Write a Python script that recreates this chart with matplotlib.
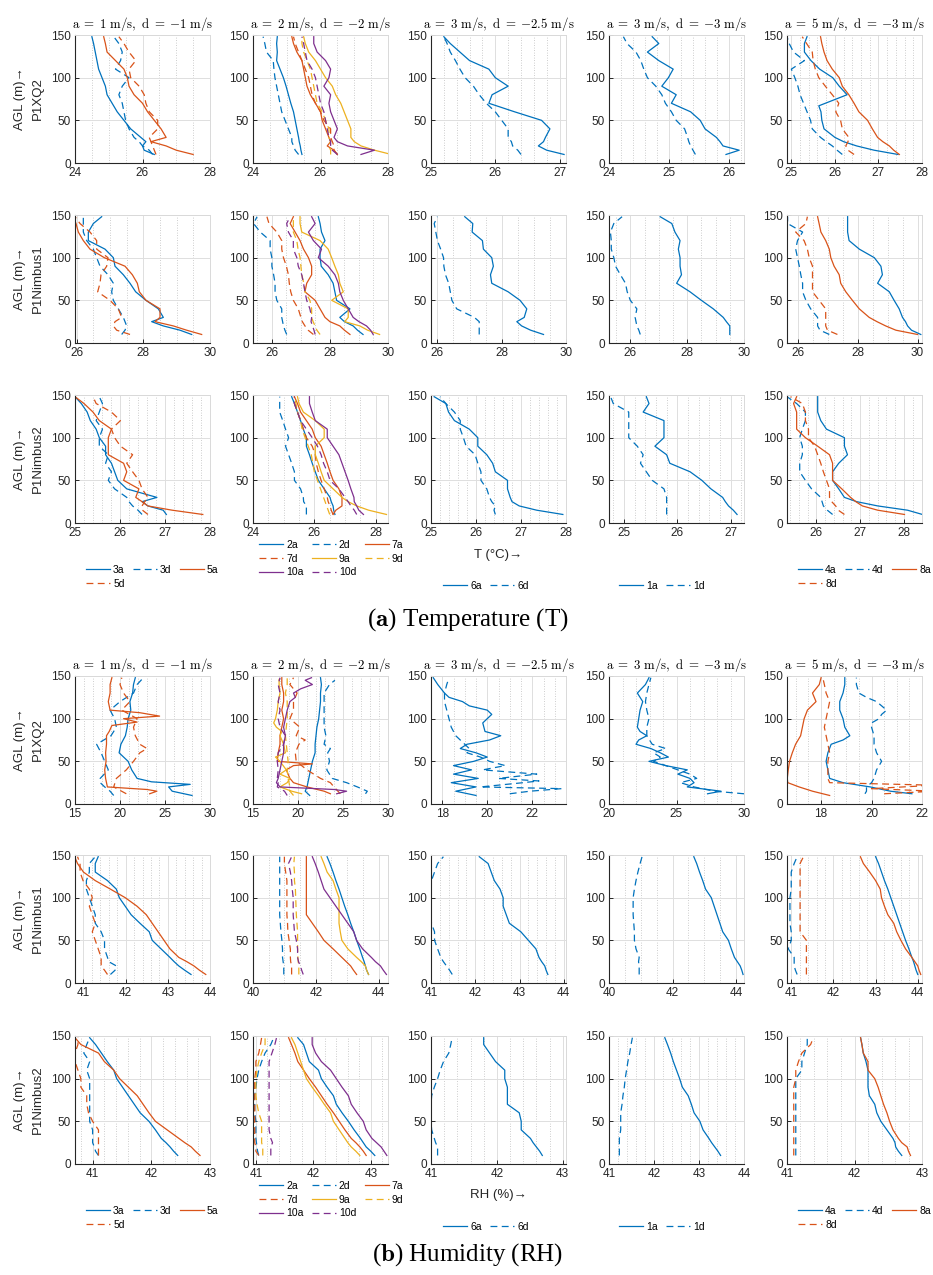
import matplotlib
matplotlib.use('Agg')
import matplotlib.pyplot as plt
from matplotlib.ticker import MultipleLocator, FixedLocator
from matplotlib.lines import Line2D

plt.rcParams['mathtext.fontset'] = 'cm'
plt.rcParams['font.family'] = ['Liberation Sans', 'DejaVu Sans']

# ---------------- data ----------------
H = [10, 15, 20, 25, 30, 40, 50, 60, 70, 80, 90, 100, 110, 120, 130, 140, 148]

# Temperature, P1XQ2
T_XQ2_c1 = {
    '3a': [26.35, 26.05, 26.0, 26.1, 25.95, 25.65, 25.45, 25.25, 25.1, 24.95, 24.9, 24.8, 24.7, 24.65, 24.6, 24.55, 24.5],
    '3d': [26.3, 26.2, 26.0, 25.9, 25.75, 25.6, 25.5, 25.45, 25.4, 25.3, 25.4, 25.6, 25.2, 25.35, 25.4, 25.3, 25.15],
    '5a': [27.5, 27.0, 26.7, 26.25, 26.7, 26.55, 26.35, 26.15, 26.0, 25.75, 25.6, 25.55, 25.45, 25.2, 24.95, 24.9, 24.85],
    '5d': [26.4, 26.35, 26.3, 26.25, 26.2, 26.45, 26.45, 26.2, 26.1, 26.05, 25.9, 25.65, 25.6, 25.8, 25.6, 25.45, 25.3],
}
T_XQ2_c2 = {
    '2a': [25.45, 25.42, 25.4, 25.37, 25.35, 25.3, 25.25, 25.2, 25.12, 25.05, 24.98, 24.9, 24.8, 24.7, 24.72, 24.7, 24.72],
    '2d': [25.35, 25.25, 25.2, 25.15, 25.15, 25.05, 24.95, 24.85, 24.8, 24.75, 24.7, 24.65, 24.62, 24.6, 24.4, 24.35, 24.3],
    '7a': [26.5, 26.4, 26.2, 26.3, 26.25, 26.15, 26.05, 26.0, 25.85, 25.7, 25.6, 25.55, 25.5, 25.45, 25.3, 25.2, 25.15],
    '7d': [26.5, 26.4, 26.4, 26.35, 26.3, 26.3, 26.1, 26.0, 25.85, 25.75, 25.7, 25.65, 25.55, 25.45, 25.35, 25.25, 25.2],
    '9a': [28.1, 27.6, 27.2, 27.0, 26.9, 26.9, 26.8, 26.7, 26.6, 26.45, 26.35, 26.15, 26.0, 25.85, 25.65, 25.55, 25.5],
    '9d': [26.3, 26.3, 26.25, 26.3, 26.25, 26.25, 26.15, 26.05, 25.9, 25.85, 25.8, 25.75, 25.7, 25.6, 25.5, 25.45, 25.45],
    '10a': [27.2, 27.6, 26.8, 26.5, 26.4, 26.5, 26.4, 26.3, 26.25, 26.3, 26.1, 26.25, 26.3, 26.15, 25.9, 25.8, 25.8],
    '10d': [26.5, 26.35, 26.3, 26.3, 26.25, 26.2, 26.15, 26.1, 26.0, 25.95, 25.9, 25.85, 25.75, 25.6, 25.55, 25.5, 25.45],
}
T_XQ2_c3 = {
    '6a': [27.07, 26.8, 26.67, 26.75, 26.78, 26.85, 26.72, 26.3, 25.9, 25.95, 26.2, 26.0, 25.9, 25.6, 25.45, 25.3, 25.2],
    '6d': [26.4, 26.35, 26.27, 26.25, 26.2, 26.2, 26.1, 26.0, 25.86, 25.75, 25.66, 25.53, 25.45, 25.38, 25.3, 25.25, 25.2],
}
T_XQ2_c4 = {
    '1a': [25.95, 26.17, 25.9, 25.85, 25.79, 25.6, 25.52, 25.36, 25.04, 25.12, 24.88, 24.99, 25.07, 24.83, 24.64, 24.83, 24.72],
    '1d': [25.44, 25.4, 25.36, 25.33, 25.31, 25.26, 25.12, 25.04, 24.94, 24.88, 24.78, 24.64, 24.58, 24.53, 24.45, 24.3, 24.24],
}
T_XQ2_c5 = {
    '4a': ([10, 15, 20, 25, 30, 40, 50, 60, 67, 80, 90, 100, 110, 120, 130, 140, 148],
           [27.45, 26.9, 26.5, 26.2, 26.0, 25.75, 25.7, 25.68, 25.63, 26.28, 26.1, 25.95, 25.65, 25.45, 25.3, 25.3, 25.36]),
    '4d': [26.17, 26.05, 25.94, 25.8, 25.67, 25.48, 25.44, 25.36, 25.28, 25.2, 25.15, 25.08, 25.0, 25.3, 25.05, 24.95, 24.9],
    '8a': [27.48, 27.35, 27.25, 27.1, 26.98, 26.86, 26.75, 26.55, 26.44, 26.32, 26.17, 26.1, 25.94, 25.82, 25.75, 25.7, 25.67],
    '8d': [26.44, 26.3, 26.25, 26.3, 26.32, 26.17, 26.13, 26.02, 26.09, 25.94, 25.78, 25.63, 25.55, 25.5, 25.48, 25.35, 25.25],
}

# Temperature, P1Nimbus1
T_N1_c1 = {
    '3a': [29.45, 29.1, 28.6, 28.25, 28.6, 28.45, 28.08, 27.77, 27.6, 27.4, 27.15, 27.1, 26.85, 26.35, 26.35, 26.5, 26.75],
    '3d': [27.35, 27.45, 27.5, 27.45, 27.4, 27.25, 27.1, 27.05, 27.1, 26.94, 26.7, 26.6, 26.5, 26.3, 26.2, 26.2, 26.2],
    '5a': [29.75, 29.3, 28.9, 28.35, 28.5, 28.5, 28.08, 27.88, 27.82, 27.67, 27.45, 26.83, 26.4, 26.2, 26.05, 25.98, 25.9],
    '5d': [27.6, 27.2, 27.1, 27.15, 27.35, 27.25, 27.0, 26.63, 26.7, 26.73, 26.9, 26.94, 26.6, 26.6, 26.4, 26.1, 25.95],
}
T_N1_c2 = {
    '2a': [29.14, 28.95, 28.8, 28.5, 28.34, 28.69, 28.23, 28.17, 28.11, 27.94, 27.7, 27.66, 27.66, 27.83, 27.71, 27.66, 27.6],
    '2d': [26.51, 26.45, 26.4, 26.37, 26.34, 26.34, 26.17, 26.11, 26.11, 26.06, 26.0, 26.0, 25.94, 25.94, 25.6, 25.37, 25.49],
    '7a': [28.69, 28.5, 28.34, 28.0, 27.83, 27.66, 27.49, 27.14, 27.2, 27.37, 27.37, 27.26, 27.09, 26.97, 26.8, 26.63, 26.74],
    '7d': [27.43, 27.25, 27.14, 27.05, 27.0, 26.91, 26.74, 26.65, 26.6, 26.57, 26.5, 26.4, 26.34, 26.34, 26.17, 25.9, 25.83],
    '9a': [29.71, 29.3, 29.03, 28.51, 28.63, 28.63, 28.06, 28.46, 28.34, 28.29, 28.17, 28.06, 27.94, 27.66, 27.03, 26.97, 26.97],
    '9d': [27.66, 27.55, 27.49, 27.42, 27.37, 27.37, 27.31, 27.14, 27.1, 27.03, 27.0, 26.97, 26.9, 26.86, 26.74, 26.74, 26.74],
    '10a': [29.49, 29.4, 29.26, 29.0, 28.8, 28.63, 28.46, 28.34, 28.29, 28.17, 27.94, 27.6, 27.71, 27.43, 27.26, 27.49, 27.37],
    '10d': [27.49, 27.45, 27.4, 27.35, 27.37, 27.31, 27.2, 27.14, 27.09, 27.03, 26.91, 26.86, 26.74, 26.74, 26.57, 26.51, 26.63],
}
T_N1_c3 = {
    '6a': [29.3, 28.9, 28.62, 28.47, 28.7, 28.78, 28.57, 28.2, 27.69, 27.65, 27.74, 27.69, 27.43, 27.4, 27.08, 27.1, 26.85],
    '6d': [27.3, 27.3, 27.3, 27.3, 27.15, 26.6, 26.45, 26.4, 26.35, 26.25, 26.2, 26.19, 26.1, 26.0, 25.95, 25.9, 26.0],
}
T_N1_c4 = {
    '1a': [29.5, 29.5, 29.5, 29.38, 29.27, 28.92, 28.5, 28.1, 27.63, 27.8, 27.75, 27.75, 27.69, 27.75, 27.57, 27.46, 27.05],
    '1d': [26.35, 26.3, 26.23, 26.2, 26.17, 26.23, 26.0, 25.89, 25.83, 25.65, 25.48, 25.42, 25.33, 25.33, 25.3, 25.42, 25.71],
}
T_N1_c5 = {
    '4a': [30.11, 29.8, 29.67, 29.6, 29.5, 29.39, 29.22, 29.06, 28.67, 28.83, 28.78, 28.56, 28.06, 27.72, 27.67, 27.67, 27.67],
    '4d': [27.06, 26.75, 26.67, 26.67, 26.67, 26.44, 26.28, 26.17, 26.17, 26.11, 26.06, 26.0, 25.94, 26.0, 26.17, 25.67, 25.67],
    '8a': [30.0, 29.28, 28.94, 28.65, 28.39, 28.06, 27.83, 27.61, 27.44, 27.39, 27.22, 27.11, 27.06, 26.94, 26.78, 26.72, 26.67],
    '8d': [27.33, 27.0, 26.94, 26.94, 26.94, 26.94, 26.72, 26.5, 26.5, 26.5, 26.5, 26.39, 26.33, 26.22, 25.94, 26.28, 26.33],
}

# Temperature, P1Nimbus2
T_N2_c1 = {
    '3a': [27.03, 26.96, 26.62, 26.49, 26.82, 26.15, 25.95, 25.88, 25.81, 25.68, 25.68, 25.54, 25.47, 25.34, 25.27, 25.14, 25.0],
    '3d': [26.49, 26.4, 26.28, 26.2, 26.15, 25.88, 25.74, 25.81, 25.68, 25.74, 25.54, 25.54, 25.61, 25.47, 25.54, 25.61, 25.54],
    '5a': [27.84, 27.16, 26.62, 26.49, 26.35, 26.42, 26.08, 26.15, 26.08, 25.74, 25.74, 25.74, 25.81, 25.54, 25.4, 25.2, 25.0],
    '5d': [26.62, 26.5, 26.49, 26.55, 26.62, 26.49, 26.42, 26.28, 26.15, 26.28, 26.01, 25.88, 25.81, 26.01, 25.81, 25.47, 25.4],
}
T_N2_c2 = {
    '2a': [26.67, 26.63, 26.61, 26.55, 26.51, 26.32, 26.13, 26.03, 25.93, 25.84, 25.74, 25.74, 25.64, 25.55, 25.45, 25.35, 25.26],
    '2d': [25.74, 25.74, 25.74, 25.65, 25.64, 25.55, 25.35, 25.35, 25.26, 25.16, 25.06, 25.16, 25.06, 24.97, 24.87, 24.87, 24.87],
    '7a': [26.61, 26.7, 26.9, 26.9, 26.9, 26.8, 26.61, 26.51, 26.42, 26.32, 26.22, 26.03, 25.93, 25.74, 25.55, 25.45, 25.35],
    '7d': [26.61, 26.55, 26.51, 26.45, 26.42, 26.32, 26.22, 26.13, 26.06, 26.03, 25.93, 25.74, 25.64, 25.55, 25.45, 25.35, 25.35],
    '9a': [28.35, 27.77, 27.38, 27.1, 26.9, 26.61, 26.32, 26.22, 26.13, 26.03, 26.03, 26.32, 26.32, 26.03, 25.64, 25.5, 25.45],
    '9d': [26.5, 26.45, 26.4, 26.35, 26.3, 26.2, 26.1, 26.0, 25.95, 25.9, 25.8, 25.7, 25.6, 25.55, 25.45, 25.4, 25.35],
    '10a': [27.6, 27.45, 27.38, 27.3, 27.29, 27.19, 27.1, 27.0, 26.9, 26.8, 26.61, 26.42, 26.42, 26.03, 25.93, 25.84, 25.84],
    '10d': [27.38, 27.3, 27.19, 27.1, 27.0, 26.8, 26.51, 26.42, 26.3, 26.22, 26.1, 25.93, 25.74, 25.55, 25.45, 25.35, 25.35],
}
T_N2_c3 = {
    '6a': [27.93, 27.35, 26.96, 26.8, 26.76, 26.7, 26.7, 26.43, 26.37, 26.24, 26.04, 26.04, 25.85, 25.52, 25.39, 25.33, 25.07],
    '6d': [26.43, 26.4, 26.43, 26.35, 26.3, 26.24, 26.11, 26.11, 26.04, 25.98, 25.78, 25.72, 25.65, 25.65, 25.52, 25.33, 25.2],
}
T_N2_c4 = {
    '1a': [27.12, 27.05, 26.96, 26.9, 26.85, 26.63, 26.46, 26.24, 25.86, 25.8, 25.58, 25.75, 25.75, 25.75, 25.36, 25.47, 25.42],
    '1d': [25.8, 25.8, 25.8, 25.8, 25.8, 25.75, 25.53, 25.42, 25.31, 25.36, 25.25, 25.09, 25.09, 25.09, 25.09, 24.8, 24.75],
}
T_N2_c5 = {
    '4a': [28.42, 28.08, 27.4, 26.92, 26.64, 26.51, 26.37, 26.37, 26.51, 26.71, 26.64, 26.64, 26.23, 26.1, 26.03, 26.03, 26.03],
    '4d': [26.37, 26.25, 26.16, 26.13, 26.1, 25.89, 25.75, 25.62, 25.62, 25.68, 25.68, 25.62, 25.68, 25.75, 25.75, 25.55, 25.33],
    '8a': [28.01, 27.4, 27.05, 26.9, 26.78, 26.58, 26.37, 26.37, 26.37, 26.3, 26.03, 25.75, 25.55, 25.55, 25.55, 25.48, 25.55],
    '8d': [26.64, 26.5, 26.44, 26.35, 26.3, 26.3, 26.23, 26.16, 26.1, 26.03, 25.96, 25.82, 25.82, 25.75, 25.75, 25.68, 25.41],
}

# Humidity, P1XQ2
RH_XQ2_c1 = {
    '3a': ([10, 15, 20, 23, 26, 30, 40, 50, 55, 60, 70, 80, 90, 100, 110, 120, 130, 140, 148],
           [28.0, 25.8, 25.4, 27.8, 23.5, 21.9, 21.3, 20.9, 20.4, 19.9, 20.1, 20.6, 20.8, 20.9, 21.2, 21.1, 21.4, 21.5, 21.7]),
    '3d': [19.3, 18.9, 18.3, 17.8, 17.8, 18.7, 18.3, 17.9, 17.4, 19.0, 19.6, 19.4, 18.9, 20.0, 21.5, 21.9, 22.6],
    '5a': ([12, 15, 17, 20, 30, 40, 50, 60, 70, 80, 85, 92, 96, 100, 103, 107, 110, 120, 130, 140, 148],
           [23.3, 24.1, 23.0, 18.6, 18.4, 18.3, 18.45, 18.4, 18.5, 18.5, 18.8, 19.1, 21.9, 20.4, 24.4, 22.2, 18.9, 18.7, 18.9, 18.9, 19.1]),
    '5d': ([12, 20, 30, 40, 50, 60, 65, 70, 80, 90, 100, 110, 120, 130, 140, 148],
           [20.7, 19.3, 19.6, 20.7, 21.5, 22.2, 23.0, 22.2, 21.7, 21.5, 21.9, 20.2, 21.1, 20.4, 20.0, 20.2]),
}
RH_XQ2_c2 = {
    '2a': [21.3, 20.8, 21.0, 21.1, 21.2, 21.4, 21.6, 21.9, 21.9, 22.0, 22.1, 22.3, 22.4, 22.5, 22.5, 22.6, 22.5],
    '2d': ([12, 15, 20, 25, 30, 40, 50, 60, 65, 70, 80, 90, 100, 110, 120, 130, 140, 145],
           [27.5, 27.7, 26.6, 25.4, 23.8, 23.2, 23.5, 23.3, 23.6, 22.9, 23.1, 22.9, 22.9, 22.9, 22.9, 22.9, 23.5, 24.1]),
    '7a': ([12, 15, 20, 25, 30, 40, 45, 47, 50, 60, 70, 80, 90, 100, 110, 120, 130, 140, 148],
           [23.6, 22.9, 21.0, 19.5, 19.1, 18.7, 19.5, 21.6, 17.7, 17.8, 18.0, 18.0, 18.2, 18.4, 18.2, 18.4, 18.4, 18.2, 18.2]),
    '7d': ([12, 20, 25, 30, 40, 50, 60, 70, 75, 80, 90, 100, 110, 120, 130, 140, 148],
           [24.7, 24.0, 23.6, 22.5, 21.0, 19.8, 19.7, 20.1, 20.8, 19.8, 20.2, 19.1, 19.5, 19.5, 19.9, 19.1, 19.5]),
    '9a': ([12, 15, 20, 25, 30, 35, 40, 50, 55, 60, 70, 80, 85, 90, 95, 100, 110, 120, 130, 140, 146],
           [20.4, 19.3, 18.0, 18.8, 19.1, 18.0, 18.7, 18.0, 17.5, 18.6, 18.4, 18.0, 18.2, 17.6, 17.3, 17.5, 17.7, 17.8, 18.0, 17.9, 17.9]),
    '9d': [19.5, 19.1, 19.1, 19.0, 18.9, 18.8, 18.9, 18.8, 18.7, 18.6, 18.7, 18.8, 18.8, 18.8, 18.6, 18.8, 18.8],
    '10a': ([12, 15, 17, 20, 25, 30, 40, 50, 60, 70, 80, 90, 100, 110, 120, 125, 130, 135, 140, 145, 148],
            [24.3, 25.4, 24.0, 18.0, 17.6, 17.8, 18.0, 18.2, 18.4, 18.4, 18.6, 18.4, 18.6, 18.8, 19.1, 19.7, 19.5, 20.3, 21.6, 20.8, 21.5]),
    '10d': [18.8, 18.5, 17.7, 17.8, 17.7, 17.8, 17.7, 17.8, 18.4, 18.6, 18.0, 17.8, 18.0, 17.8, 18.0, 17.8, 18.0],
}
RH_XQ2_c3 = {
    '6a': ([10, 15, 20, 25, 30, 35, 40, 45, 50, 55, 60, 65, 70, 75, 80, 85, 95, 100, 105, 110, 115, 120, 125, 130, 140, 148],
           [19.5, 18.6, 19.5, 18.4, 19.6, 18.5, 19.3, 18.5, 19.4, 20.0, 19.5, 18.8, 19.1, 20.1, 20.6, 19.9, 19.8, 20.0, 20.2, 20.0, 19.2, 18.9, 18.3, 18.1, 17.8, 17.6]),
    '6d': ([12, 15, 18, 20, 25, 27, 30, 35, 40, 45, 50, 55, 60, 65, 70, 80, 90, 100, 110, 120, 130, 140, 148],
           [21.0, 21.9, 23.3, 19.7, 21.6, 22.3, 20.5, 22.2, 19.8, 20.8, 20.1, 19.7, 19.1, 19.2, 19.0, 18.6, 18.4, 18.3, 18.2, 18.1, 18.1, 18.2, 18.3]),
}
RH_XQ2_c4 = {
    '1a': ([12, 15, 20, 25, 30, 35, 40, 45, 50, 55, 60, 65, 70, 75, 80, 85, 90, 100, 110, 120, 130, 140, 148],
           [27.3, 28.3, 25.8, 26.3, 26.0, 25.1, 25.8, 24.2, 22.96, 24.4, 23.8, 23.1, 22.0, 22.2, 22.8, 22.3, 22.1, 22.2, 22.3, 22.5, 22.1, 22.7, 22.96]),
    '1d': ([12, 15, 20, 25, 30, 35, 40, 50, 55, 60, 65, 70, 80, 90, 100, 110, 120, 130, 140, 148],
           [30.0, 27.8, 26.3, 25.3, 26.5, 26.0, 25.1, 23.3, 23.8, 23.3, 24.2, 23.2, 22.8, 22.8, 22.96, 22.8, 22.7, 22.8, 22.96, 23.1]),
}
RH_XQ2_c5 = {
    '4a': ([12, 15, 20, 25, 30, 40, 50, 60, 70, 75, 80, 90, 100, 110, 120, 130, 140, 148],
           [21.6, 20.75, 19.95, 18.87, 18.34, 18.27, 18.2, 18.27, 18.4, 18.87, 19.14, 18.94, 18.87, 18.74, 18.74, 18.87, 18.94, 18.94]),
    '4d': ([12, 15, 20, 25, 30, 40, 50, 55, 60, 70, 80, 90, 95, 100, 105, 110, 120, 125, 130, 140, 148],
           [19.74, 19.8, 19.8, 20.0, 20.1, 20.2, 20.4, 20.3, 20.2, 20.1, 20.1, 20.0, 20.0, 20.3, 20.4, 20.6, 20.2, 19.8, 19.5, 19.4, 19.4]),
    '8a': [18.34, 17.66, 17.13, 16.68, 16.66, 16.7, 16.75, 16.86, 16.99, 17.19, 17.26, 17.33, 17.46, 17.8, 17.66, 17.93, 18.0],
    '8d': ([12, 15, 18, 22, 25, 30, 40, 50, 60, 70, 80, 90, 100, 110, 120, 130, 140, 148],
           [20.5, 22.5, 20.0, 22.5, 18.34, 18.27, 18.27, 18.27, 18.34, 18.27, 18.2, 18.13, 18.2, 18.27, 18.34, 18.2, 18.13, 18.07]),
}

# Humidity, P1Nimbus1
RH_N1_c1 = {
    '3a': [43.55, 43.4, 43.26, 43.15, 43.05, 42.84, 42.63, 42.56, 42.34, 42.13, 41.99, 41.85, 41.78, 41.57, 41.28, 41.28, 41.35],
    '3d': [41.64, 41.75, 41.78, 41.6, 41.57, 41.5, 41.5, 41.42, 41.28, 41.28, 41.21, 41.14, 41.07, 41.07, 41.14, 41.14, 41.28],
    '5a': [43.9, 43.75, 43.62, 43.45, 43.26, 43.05, 42.91, 42.77, 42.63, 42.49, 42.27, 41.99, 41.64, 41.28, 41.0, 40.86, 40.79],
    '5d': [41.57, 41.5, 41.42, 41.42, 41.42, 41.35, 41.28, 41.21, 41.28, 41.21, 41.14, 41.21, 41.14, 40.99, 40.92, 40.92, 40.86],
}
RH_N1_c2 = {
    '2a': [43.68, 43.62, 43.58, 43.54, 43.49, 43.4, 43.3, 43.21, 43.11, 43.02, 42.92, 42.83, 42.74, 42.64, 42.55, 42.45, 42.36],
    '2d': [40.98, 40.98, 40.98, 40.96, 40.94, 40.94, 40.92, 40.89, 40.87, 40.85, 40.85, 40.85, 40.85, 40.85, 40.85, 40.85, 40.85],
    '7a': [43.3, 43.2, 43.11, 42.97, 42.83, 42.55, 42.26, 42.08, 41.89, 41.7, 41.7, 41.7, 41.7, 41.7, 41.7, 41.7, 41.7],
    '7d': [41.23, 41.23, 41.23, 41.2, 41.19, 41.19, 41.15, 41.11, 41.1, 41.08, 41.08, 41.08, 41.08, 41.08, 41.04, 41.0, 41.0],
    '9a': [43.68, 43.62, 43.58, 43.45, 43.3, 43.02, 42.83, 42.78, 42.74, 42.74, 42.74, 42.74, 42.64, 42.55, 42.36, 42.26, 42.17],
    '9d': [41.46, 41.46, 41.46, 41.44, 41.43, 41.42, 41.42, 41.42, 41.4, 41.38, 41.37, 41.36, 41.35, 41.32, 41.32, 41.3, 41.32],
    '10a': [44.25, 44.15, 44.06, 43.9, 43.77, 43.49, 43.3, 43.21, 43.02, 42.83, 42.64, 42.45, 42.26, 42.17, 42.08, 41.98, 41.89],
    '10d': [41.6, 41.55, 41.51, 41.45, 41.42, 41.42, 41.38, 41.32, 41.3, 41.28, 41.28, 41.28, 41.25, 41.23, 41.19, 41.13, 41.23],
}
RH_N1_c3 = {
    '6a': [43.64, 43.6, 43.57, 43.5, 43.44, 43.37, 43.2, 43.03, 42.77, 42.7, 42.63, 42.63, 42.56, 42.43, 42.36, 42.29, 42.09],
    '6d': [41.48, 41.42, 41.35, 41.28, 41.22, 41.15, 41.08, 41.08, 41.01, 41.0, 40.98, 40.98, 40.98, 41.01, 41.08, 41.15, 41.28],
}
RH_N1_c4 = {
    '1a': [44.22, 44.18, 44.13, 44.04, 43.95, 43.85, 43.76, 43.58, 43.49, 43.4, 43.31, 43.22, 43.04, 42.95, 42.85, 42.76, 42.67],
    '1d': [40.95, 40.95, 40.95, 40.93, 40.95, 40.85, 40.8, 40.8, 40.78, 40.76, 40.76, 40.76, 40.8, 40.85, 40.91, 40.98, 41.04],
}
RH_N1_c5 = {
    '4a': [44.0, 43.96, 43.93, 43.9, 43.86, 43.79, 43.71, 43.64, 43.57, 43.5, 43.43, 43.36, 43.29, 43.21, 43.14, 43.07, 43.0],
    '4d': [41.14, 41.1, 41.07, 41.07, 41.07, 40.93, 41.0, 41.0, 40.97, 40.97, 40.97, 40.97, 41.0, 41.0, 41.0, 41.07, 41.14],
    '8a': [44.07, 44.03, 44.0, 43.93, 43.86, 43.71, 43.6, 43.5, 43.43, 43.29, 43.21, 43.14, 43.11, 43.0, 42.86, 42.71, 42.64],
    '8d': [41.36, 41.36, 41.36, 41.36, 41.36, 41.36, 41.36, 41.21, 41.21, 41.21, 41.21, 41.21, 41.21, 41.21, 41.21, 41.21, 41.29],
}

# Humidity, P1Nimbus2
RH_N2_c1 = {
    '3a': [42.45, 42.38, 42.32, 42.25, 42.17, 42.07, 41.96, 41.81, 41.71, 41.61, 41.51, 41.41, 41.36, 41.25, 41.15, 41.05, 40.95],
    '3d': [41.1, 41.05, 41.03, 41.0, 41.0, 41.0, 40.95, 40.95, 40.95, 40.95, 40.95, 40.95, 40.9, 40.95, 40.85, 40.9, 40.95],
    '5a': [42.83, 42.75, 42.68, 42.57, 42.47, 42.27, 42.07, 41.96, 41.86, 41.76, 41.61, 41.46, 41.36, 41.2, 41.1, 40.8, 40.7],
    '5d': [41.1, 41.1, 41.1, 41.1, 41.1, 41.1, 41.0, 40.93, 40.9, 40.9, 40.8, 40.8, 40.75, 40.7, 40.7, 40.75, 40.75],
}
RH_N2_c2 = {
    '2a': [43.07, 43.0, 42.92, 42.87, 42.82, 42.71, 42.61, 42.5, 42.4, 42.35, 42.24, 42.14, 42.09, 41.93, 41.88, 41.83, 41.73],
    '2d': [41.05, 41.03, 41.02, 41.01, 41.0, 41.0, 41.0, 40.98, 40.98, 40.98, 41.0, 41.02, 41.05, 41.1, 41.16, 41.26, 41.31],
    '7a': [42.92, 42.87, 42.81, 42.74, 42.66, 42.55, 42.45, 42.35, 42.24, 42.14, 42.04, 41.93, 41.83, 41.73, 41.68, 41.62, 41.57],
    '7d': [41.05, 41.0, 41.0, 40.98, 40.98, 40.98, 40.98, 40.98, 40.98, 40.98, 40.98, 40.98, 41.0, 41.0, 41.05, 41.08, 41.1],
    '9a': [42.81, 42.74, 42.66, 42.6, 42.55, 42.45, 42.35, 42.3, 42.19, 42.09, 41.98, 41.88, 41.83, 41.78, 41.73, 41.68, 41.62],
    '9d': [41.12, 41.12, 41.12, 41.1, 41.1, 41.1, 41.1, 41.05, 41.02, 41.0, 41.0, 41.0, 41.02, 41.05, 41.1, 41.16, 41.16],
    '10a': [43.28, 43.23, 43.18, 43.1, 43.02, 42.92, 42.87, 42.76, 42.66, 42.61, 42.5, 42.4, 42.3, 42.14, 42.04, 41.98, 41.98],
    '10d': [41.26, 41.26, 41.26, 41.29, 41.26, 41.23, 41.23, 41.23, 41.23, 41.23, 41.23, 41.23, 41.23, 41.23, 41.28, 41.33, 41.36],
}
RH_N2_c3 = {
    '6a': [42.69, 42.65, 42.6, 42.55, 42.51, 42.37, 42.37, 42.34, 42.16, 42.16, 42.16, 42.12, 42.12, 41.98, 41.89, 41.8, 41.8],
    '6d': [41.1, 41.1, 41.1, 41.07, 41.05, 41.01, 41.0, 41.0, 41.0, 41.01, 41.05, 41.1, 41.14, 41.19, 41.27, 41.3, 41.32],
}
RH_N2_c4 = {
    '1a': [43.48, 43.42, 43.35, 43.28, 43.22, 43.09, 43.02, 42.89, 42.83, 42.76, 42.63, 42.57, 42.5, 42.43, 42.37, 42.3, 42.24],
    '1d': [41.23, 41.23, 41.23, 41.23, 41.23, 41.26, 41.26, 41.26, 41.29, 41.31, 41.34, 41.36, 41.39, 41.42, 41.46, 41.49, 41.52],
}
RH_N2_c5 = {
    '4a': [42.7, 42.65, 42.61, 42.6, 42.57, 42.48, 42.39, 42.33, 42.3, 42.22, 42.2, 42.2, 42.2, 42.17, 42.13, 42.11, 42.09],
    '4d': [41.13, 41.13, 41.13, 41.13, 41.13, 41.13, 41.13, 41.13, 41.13, 41.13, 41.13, 41.13, 41.22, 41.22, 41.26, 41.3, 41.3],
    '8a': [42.83, 42.8, 42.78, 42.7, 42.65, 42.57, 42.52, 42.48, 42.43, 42.39, 42.35, 42.3, 42.2, 42.2, 42.13, 42.11, 42.09],
    '8d': [41.1, 41.1, 41.1, 41.1, 41.1, 41.1, 41.1, 41.1, 41.1, 41.1, 41.1, 41.13, 41.13, 41.17, 41.22, 41.35, 41.39],
}

ROWS = [
    [T_XQ2_c1, T_XQ2_c2, T_XQ2_c3, T_XQ2_c4, T_XQ2_c5],
    [T_N1_c1, T_N1_c2, T_N1_c3, T_N1_c4, T_N1_c5],
    [T_N2_c1, T_N2_c2, T_N2_c3, T_N2_c4, T_N2_c5],
    [RH_XQ2_c1, RH_XQ2_c2, RH_XQ2_c3, RH_XQ2_c4, RH_XQ2_c5],
    [RH_N1_c1, RH_N1_c2, RH_N1_c3, RH_N1_c4, RH_N1_c5],
    [RH_N2_c1, RH_N2_c2, RH_N2_c3, RH_N2_c4, RH_N2_c5],
]
ROW_NAMES = ['P1XQ2', 'P1Nimbus1', 'P1Nimbus2', 'P1XQ2', 'P1Nimbus1', 'P1Nimbus2']

XLIMS = [
    [(24, 28), (24, 28), (25, 27.1), (24, 26.25), (24.9, 28)],
    [(25.95, 30), (25.35, 30), (25.8, 30), (25.25, 30), (25.65, 30.15)],
    [(25, 28), (24, 28.4), (25, 28), (24.72, 27.25), (25.33, 28.41)],
    [(15, 30), (15, 30), (17.5, 23.5), (20, 30), (16.65, 22)],
    [(40.8, 44), (40, 44.3), (41, 44.05), (40, 44.25), (40.9, 44.1)],
    [(40.7, 43), (40.95, 43.3), (41, 43.05), (41, 44), (41, 43)],
]
XTICKS = [
    [[24, 26, 28], [24, 26, 28], [25, 26, 27], [24, 25, 26], [25, 26, 27, 28]],
    [[26, 28, 30]] * 5,
    [[25, 26, 27, 28], [24, 26, 28], [25, 26, 27, 28], [25, 26, 27], [26, 27, 28]],
    [[15, 20, 25, 30], [15, 20, 25, 30], [18, 20, 22], [20, 25, 30], [18, 20, 22]],
    [[41, 42, 43, 44], [40, 42, 44], [41, 42, 43, 44], [40, 42, 44], [41, 42, 43, 44]],
    [[41, 42, 43], [41, 42, 43], [41, 42, 43], [41, 42, 43, 44], [41, 42, 43]],
]
TITLES = [('1', '-1'), ('2', '-2'), ('3', '-2.5'), ('3', '-3'), ('5', '-3')]
LEGEND_ORDER = [
    ['3a', '5d', '3d', '5a'],
    ['2a', '7d', '10a', '2d', '9a', '10d', '7a', '9d'],
    ['6a', '6d'],
    ['1a', '1d'],
    ['4a', '8d', '4d', '8a'],
]
LEGEND_NCOL = [3, 3, 2, 2, 3]

BLUE, ORANGE, YELLOW, PURPLE = '#0072BD', '#D95319', '#EDB120', '#7E2F8E'


def style(label):
    num = label[:-1]
    color = {'5': ORANGE, '7': ORANGE, '8': ORANGE, '9': YELLOW, '10': PURPLE}.get(num, BLUE)
    ls = '-' if label.endswith('a') else (0, (5.5, 3.5))
    return color, ls


# ---------------- layout ----------------
W, HP = 933, 1275
fig = plt.figure(figsize=(W / 100, HP / 100), dpi=100)
LEFTS = [75, 253, 431, 609, 787]
AXW = 135
ROW_TOPS = [35, 215, 395, 676, 855, 1036]
AXH = 128
TXT = '#262626'
LW = 0.9


def fx(px):
    return px / W


def fy(py):
    return 1 - py / HP


for r in range(6):
    for c in range(5):
        ax = fig.add_axes([fx(LEFTS[c]), fy(ROW_TOPS[r] + AXH), AXW / W, AXH / HP])
        panel = ROWS[r][c]
        for lab, d in panel.items():
            if isinstance(d, tuple):
                hs, xs = d
            else:
                hs, xs = H, d
            col, ls = style(lab)
            ax.plot(xs, hs, color=col, ls=ls, lw=LW, label=lab)
        ax.set_xlim(*XLIMS[r][c])
        ax.set_ylim(0, 150)
        ticks = XTICKS[r][c]
        ax.xaxis.set_major_locator(FixedLocator(ticks))
        step = ticks[1] - ticks[0]
        ax.xaxis.set_minor_locator(MultipleLocator({1: 0.2, 2: 0.5, 5: 1}[step]))
        ax.set_yticks([0, 50, 100, 150])
        ax.grid(which='major', color='#dedede', lw=0.7)
        ax.xaxis.grid(which='minor', color='#bdbdbd', ls=(0, (1, 2)), lw=0.6)
        ax.set_axisbelow(True)
        ax.tick_params(which='major', direction='in', length=3, width=0.7,
                       labelsize=8.5, colors=TXT, pad=3)
        ax.tick_params(which='minor', length=0)
        for s in ['left', 'bottom']:
            ax.spines[s].set_color(TXT)
            ax.spines[s].set_linewidth(0.8)
        for s in ['top', 'right']:
            ax.spines[s].set_color('#d9d9d9')
            ax.spines[s].set_linewidth(0.7)
        if r in (0, 3):
            a, d = TITLES[c]
            d = d.replace('-', '{-}')
            ax.set_title(r'$\mathrm{a\;=\;%s\ m/s,\ d\;=\;%s\ m/s}$' % (a, d),
                         fontsize=9.3, pad=5, color='black')
        if c == 0:
            cy = ROW_TOPS[r] + AXH / 2
            fig.text(fx(20), fy(cy), 'AGL (m)→', rotation=90, ha='center', va='center',
                     fontsize=9.5, color=TXT)
            fig.text(fx(38), fy(cy), ROW_NAMES[r], rotation=90, ha='center', va='center',
                     fontsize=9.5, color=TXT)
        if r in (2, 5):
            bottom = ROW_TOPS[r] + AXH
            handles = []
            for lab in LEGEND_ORDER[c]:
                colr, ls = style(lab)
                handles.append(Line2D([], [], color=colr, ls=ls, lw=LW))
            tops = [bottom + 42, bottom + 17, bottom + 58, bottom + 58, bottom + 42]
            lefts = [86, 259, 443, 619, 798]
            ax.legend(handles, LEGEND_ORDER[c], ncol=LEGEND_NCOL[c], loc='upper left',
                      bbox_to_anchor=(fx(lefts[c]), fy(tops[c])), bbox_transform=fig.transFigure,
                      frameon=False, fontsize=7.5, handlelength=2.3, handletextpad=0.3,
                      columnspacing=0.8, labelspacing=0.35, borderpad=0, borderaxespad=0)

fig.text(fx(498), fy(555), 'T (°C)→', ha='center', va='center', fontsize=9.5, color=TXT)
fig.text(fx(498), fy(1195), 'RH (%)→', ha='center', va='center', fontsize=9.5, color=TXT)
fig.text(fx(468), fy(620), r'($\mathbf{a}$) Temperature (T)', ha='center', va='center',
         fontsize=18, family='Liberation Serif')
fig.text(fx(468), fy(1255), r'($\mathbf{b}$) Humidity (RH)', ha='center', va='center',
         fontsize=18, family='Liberation Serif')

fig.savefig('out.png', dpi=100)
